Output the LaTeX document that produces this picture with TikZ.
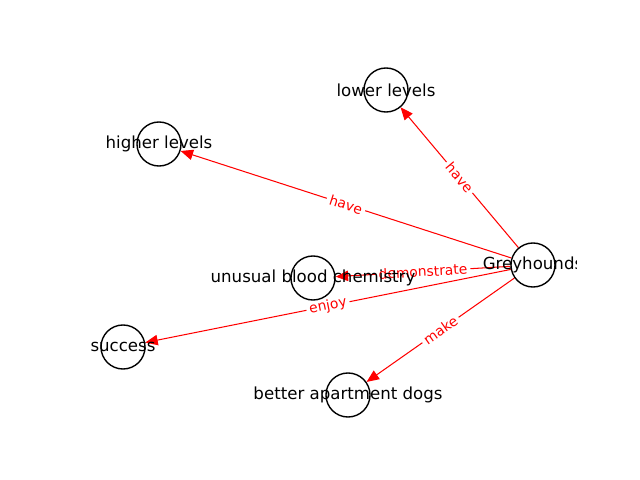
\documentclass[tikz,border=0pt]{standalone}
\usepackage{fontspec}
\setmainfont{DejaVu Sans}
\usepackage{tikz}
\usetikzlibrary{arrows.meta,shapes,calc}
\pgfdeclarelayer{bg}
\pgfsetlayers{bg,main}

\begin{document}
\begin{tikzpicture}[x=0.01in,y=-0.01in,>={Triangle[length=9pt,width=7.5pt]},
	main node/.style={circle,draw=black,line width=1pt,fill=white,inner sep=0pt,
		minimum size=0.44in},
	every label/.style={font=\fontsize{12}{14}\selectfont,inner sep=0pt},
	rel/.style={->,color=red,line width=0.75pt},
	rel label/.style={sloped,fill=white,inner sep=2.2pt,text=red,
		font=\fontsize{10}{12}\selectfont}]

    \useasboundingbox (0,0) rectangle (640,480);
    \begin{scope}
    \clip (0,0) rectangle (576,480);
    \node[main node,label=center:Greyhounds] (G) at (533,265) {};
    \node[main node,label=center:lower levels] (LL) at (386,90) {};
    \node[main node,label=center:higher levels] (HL) at (159,144) {};
    \node[main node,label=center:unusual blood chemistry] (UB) at (313,278) {};
    \node[main node,label=center:success] (S) at (123,347) {};
    \node[main node,label=center:better apartment dogs] (BA) at (348,395) {};

    \begin{pgfonlayer}{bg}
    \path[rel]
	(G) edge node[rel label] {have} (LL)
	(G) edge node[rel label] {have} (HL)
	(G) edge node[rel label] {demonstrate} (UB)
	(G) edge node[rel label] {enjoy} (S)
	(G) edge node[rel label] {make} (BA);
    \end{pgfonlayer}
    \end{scope}

\end{tikzpicture}
\end{document}
